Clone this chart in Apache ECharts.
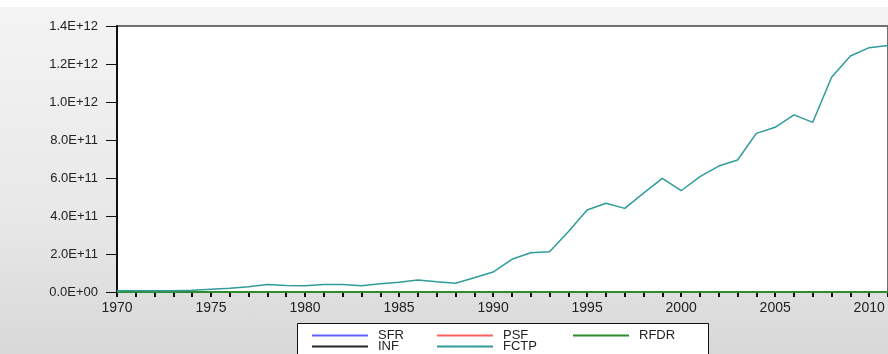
<!DOCTYPE html>
<html>
<head>
<meta charset="utf-8">
<script src="https://cdn.jsdelivr.net/npm/echarts@6/dist/echarts.min.js"></script>
<style>
html, body { margin: 0; padding: 0; }
#chart {
  width: 888px;
  height: 354px;
  background: linear-gradient(#ffffff 0px, #ffffff 7px, #f4f4f4 7px, #e8e8e8 60%, #d8d8d8 100%);
}
</style>
</head>
<body>
<div id="chart"></div>
<script>
// years on the x axis
const years = ['1970', '1971', '1972', '1973', '1974', '1975', '1976', '1977', '1978', '1979',
  '1980', '1981', '1982', '1983', '1984', '1985', '1986', '1987', '1988', '1989',
  '1990', '1991', '1992', '1993', '1994', '1995', '1996', '1997', '1998', '1999',
  '2000', '2001', '2002', '2003', '2004', '2005', '2006', '2007', '2008', '2009',
  '2010', '2011']

// the small-scale series sit on the zero line at this scale
const sfr = [0, 0, 0, 0, 0, 0, 0, 0, 0, 0, 0, 0, 0, 0, 0, 0, 0, 0, 0, 0, 0,
  0, 0, 0, 0, 0, 0, 0, 0, 0, 0, 0, 0, 0, 0, 0, 0, 0, 0, 0, 0, 0]
const psf = [0, 0, 0, 0, 0, 0, 0, 0, 0, 0, 0, 0, 0, 0, 0, 0, 0, 0, 0, 0, 0,
  0, 0, 0, 0, 0, 0, 0, 0, 0, 0, 0, 0, 0, 0, 0, 0, 0, 0, 0, 0, 0]
const rfdr = [0, 0, 0, 0, 0, 0, 0, 0, 0, 0, 0, 0, 0, 0, 0, 0, 0, 0, 0, 0, 0,
  0, 0, 0, 0, 0, 0, 0, 0, 0, 0, 0, 0, 0, 0, 0, 0, 0, 0, 0, 0, 0]
const inf = [0, 0, 0, 0, 0, 0, 0, 0, 0, 0, 0, 0, 0, 0, 0, 0, 0, 0, 0, 0, 0,
  0, 0, 0, 0, 0, 0, 0, 0, 0, 0, 0, 0, 0, 0, 0, 0, 0, 0, 0, 0, 0]
const fctp = [0.06e11, 0.06e11, 0.06e11, 0.07e11, 0.09e11, 0.15e11, 0.2e11, 0.28e11, 0.4e11, 0.34e11,
  0.33e11, 0.4e11, 0.4e11, 0.33e11, 0.44e11, 0.51e11, 0.63e11, 0.54e11, 0.46e11, 0.75e11,
  1.05e11, 1.72e11, 2.07e11, 2.12e11, 3.17e11, 4.32e11, 4.67e11, 4.4e11, 5.2e11, 5.98e11,
  5.33e11, 6.07e11, 6.63e11, 6.95e11, 8.35e11, 8.67e11, 9.32e11, 8.93e11, 11.3e11, 12.42e11,
  12.86e11, 12.98e11]

const yTicks = [0, 2e11, 4e11, 6e11, 8e11, 1e12, 1.2e12, 1.4e12]

const colors = {
  SFR: '#5f5fff',
  PSF: '#ff5f5f',
  RFDR: '#2f8a2f',
  INF: '#222222',
  FCTP: '#2f9c9a'
}

const font = "'Liberation Sans', Arial, sans-serif"

function sci (v) {
  if (v === 0) return '0.0E+00'
  const e = Math.floor(Math.log10(v) + 1e-9)
  const m = v / Math.pow(10, e)
  return m.toFixed(1) + 'E+' + (e < 10 ? '0' + e : e)
}

function legendAt (name, left, top) {
  return {
    data: [name],
    left: left,
    top: top,
    icon: 'rect',
    itemWidth: 56,
    itemHeight: 2,
    padding: 0,
    selectedMode: false,
    textStyle: { fontFamily: font, fontSize: 13, color: '#222', padding: [0, 0, 0, 5] }
  }
}

function line (name, data, width, z) {
  return {
    name: name,
    type: 'line',
    data: data,
    symbol: 'none',
    z: z,
    lineStyle: { color: colors[name], width: width },
    itemStyle: { color: colors[name] }
  }
}

const chart = echarts.init(document.getElementById('chart'))
chart.setOption({
  animation: false,
  backgroundColor: 'transparent',
  grid: {
    left: 117,
    right: -1,
    top: 26,
    bottom: 62,
    show: true,
    backgroundColor: '#ffffff',
    borderColor: '#707070',
    borderWidth: 2
  },
  graphic: [
    {
      type: 'rect',
      left: 297,
      top: 323,
      shape: { width: 411, height: 60 },
      style: { fill: '#ffffff', stroke: '#111', lineWidth: 1 },
      z: 0
    }
  ],
  legend: [
    legendAt('SFR', 312, 329),
    legendAt('PSF', 437, 329),
    legendAt('RFDR', 573, 329),
    legendAt('INF', 312, 340),
    legendAt('FCTP', 437, 340)
  ],
  xAxis: {
    type: 'category',
    data: years,
    boundaryGap: false,
    axisLine: { lineStyle: { color: '#111', width: 2 } },
    axisTick: { show: true, interval: 0, length: 5, lineStyle: { color: '#111', width: 2 } },
    axisLabel: {
      interval: (idx, val) => Number(val) % 5 === 0,
      margin: 9,
      fontFamily: font,
      fontSize: 14,
      color: '#222'
    },
    splitLine: { show: false }
  },
  yAxis: {
    type: 'value',
    min: yTicks[0],
    max: yTicks[yTicks.length - 1],
    interval: yTicks[1] - yTicks[0],
    axisLine: { show: true, lineStyle: { color: '#111', width: 2 } },
    axisTick: { show: true, length: 11, lineStyle: { color: '#111', width: 1 } },
    axisLabel: {
      formatter: sci,
      margin: 19,
      fontFamily: font,
      fontSize: 13,
      color: '#222'
    },
    splitLine: { show: false }
  },
  series: [
    line('SFR', sfr, 2, 2),
    line('PSF', psf, 2, 2),
    line('INF', inf, 2, 3),
    line('RFDR', rfdr, 2, 4),
    line('FCTP', fctp, 1.5, 5)
  ]
})
</script>
</body>
</html>
